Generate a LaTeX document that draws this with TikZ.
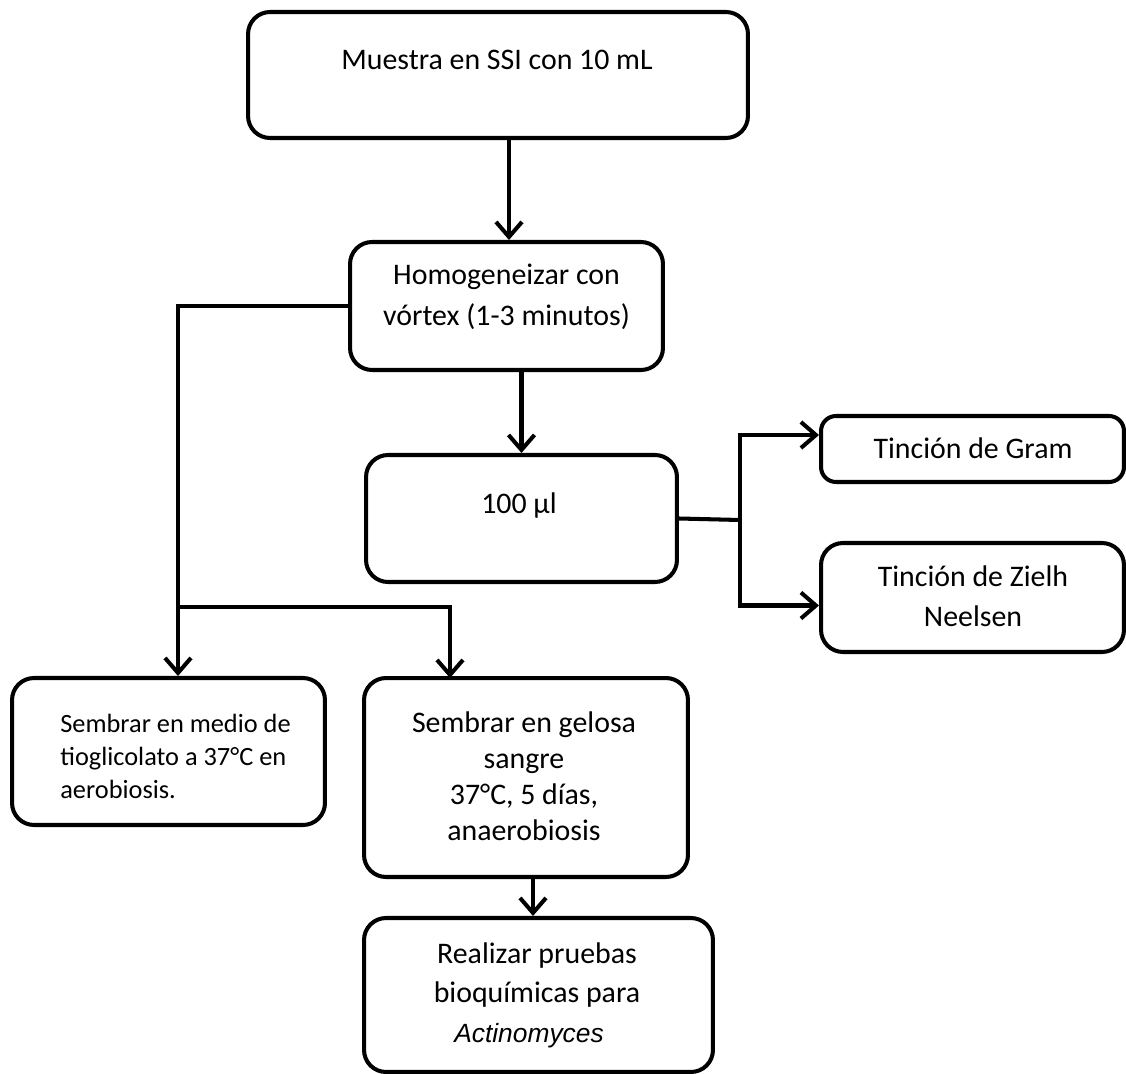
\documentclass[tikz,border=0pt]{standalone}
\usepackage{fontspec}
\setmainfont{Carlito}
\newfontfamily\arialfont{Liberation Sans}
\usepackage{tikz}
\usetikzlibrary{arrows.meta}

\tikzset{
	caja/.style={draw, rounded corners=0.44cm, line width=2.3pt, inner sep=0},
	flecha/.style={line width=2.3pt, -{Straight Barb[length=0.3cm, width=0.52cm]}},
	texto/.style={font=\fontsize{17}{23}\selectfont, align=center, inner sep=0},
}

\begin{document}
\begin{tikzpicture}[x=0.02cm, y=-0.02cm]
	\useasboundingbox (0,0) rectangle (1126,1074);
	% Boxes:
	\node[caja, minimum width=10cm, minimum height=2.52cm] (muestra) at (498,75) {};
	\node[texto] (muestra-t) at (497,60) {Muestra en SSI con 10 mL};
	\node[caja, minimum width=6.26cm, minimum height=2.56cm] (homog) at (506.5,306) {};
	\node[texto, font=\fontsize{17}{23.5}\selectfont] (homog-t) at (506.5,297) {Homogeneizar con\\v\'ortex (1-3 minutos)};
	\node[caja, minimum width=6.22cm, minimum height=2.54cm] (cien) at (521.5,518.5) {};
	\node[texto] (cien-t) at (519,506) {100 µl};
	\node[caja, rounded corners=0.3cm, minimum width=6.06cm, minimum height=1.32cm] (gram) at (972.5,449) {};
	\node[texto] (gram-t) at (973,448) {Tinción de Gram};
	\node[caja, minimum width=6.06cm, minimum height=2.18cm] (zielh) at (972.5,597.5) {};
	\node[texto] (zielh-t) at (973,596) {Tinción de Zielh\\Neelsen};
	\node[caja, minimum width=6.26cm, minimum height=2.94cm] (tiogli) at (168.5,751.5) {};
	\node[texto, align=left, anchor=west, font=\fontsize{15}{18.8}\selectfont] (tiogli-t) at (60,756) {Sembrar en medio de\\tioglicolato a 37°C en\\aerobiosis.};
	\node[caja, minimum width=6.48cm, minimum height=3.98cm] (gelosa) at (526,777.5) {};
	\node[texto, font=\fontsize{17}{20.5}\selectfont] (gelosa-t) at (524,776) {Sembrar en gelosa\\sangre\\37°C, 5 días,\\anaerobiosis};
	\node[caja, minimum width=6.98cm, minimum height=3.08cm] (realizar) at (538.5,995) {};
	\node[texto, font=\fontsize{17}{22.5}\selectfont] (realizar-t) at (537,995) {Realizar pruebas\\bioquímicas para\\\hspace*{-0.32cm}{\arialfont\itshape\fontsize{15}{22.5}\selectfont Actinomyces}};
	% Connectors:
	\coordinate (izq) at (178,607);
	\coordinate (gelosa-in) at (450,678);
	\coordinate (bif) at (740,520);
	\draw[flecha] (muestra.south -| 509,0) -- (homog.north -| 509,0);
	\draw[flecha] (homog.west) -| (izq) -- (izq |- tiogli.north);
	\draw[flecha] (izq) -| (gelosa-in);
	\draw[flecha] (homog.south -| cien.north) -- (cien.north);
	\draw[line width=2.3pt] (cien.east) -- (bif);
	\draw[flecha] (bif) |- ([yshift=0.28cm]gram.west);
	\draw[flecha] (bif) |- ([yshift=-0.16cm]zielh.west);
	\draw[flecha] (gelosa.south -| 533,0) -- (realizar.north -| 533,0);
\end{tikzpicture}
\end{document}
